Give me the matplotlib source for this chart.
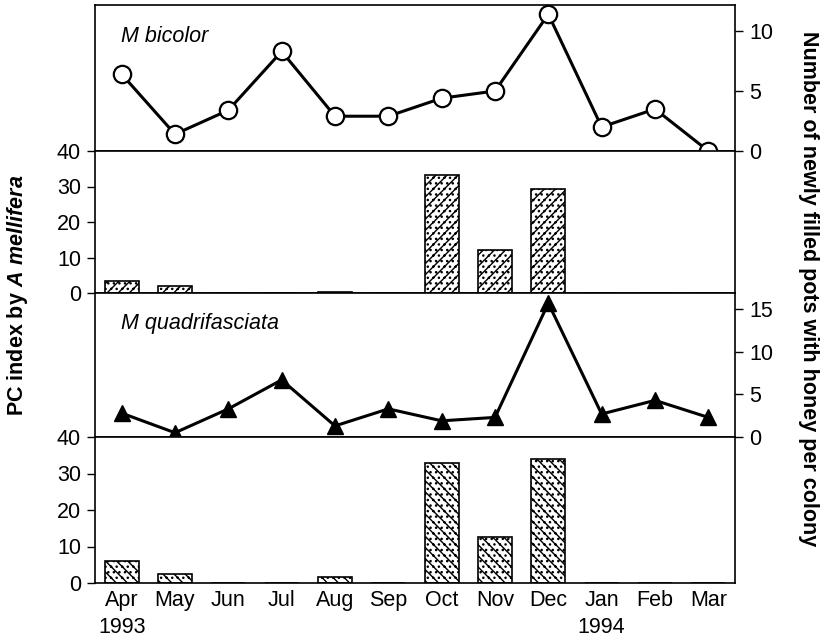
import matplotlib
matplotlib.use('Agg')
import matplotlib.pyplot as plt
import numpy as np

plt.rcParams['font.family'] = ['Liberation Sans', 'DejaVu Sans']
plt.rcParams['mathtext.fontset'] = 'custom'
plt.rcParams['mathtext.bfit'] = 'Liberation Sans:bold:italic'
plt.rcParams['mathtext.bf'] = 'Liberation Sans:bold'
plt.rcParams['hatch.linewidth'] = 1.0

months = ['Apr', 'May', 'Jun', 'Jul', 'Aug', 'Sep', 'Oct', 'Nov', 'Dec', 'Jan', 'Feb', 'Mar']
years = ['1993', '', '', '', '', '', '', '', '', '1994', '', '']

# M bicolor: newly filled pots per colony
bicolor_pots = [6.4, 1.4, 3.4, 8.3, 2.9, 2.9, 4.4, 5.0, 11.4, 2.0, 3.5, 0.0]
# PC index by A mellifera (M bicolor period)
bicolor_pc = [3.3, 1.9, 0, 0, 0.3, 0, 33.3, 12.2, 29.3, 0, 0, 0]
# M quadrifasciata: newly filled pots per colony
quadri_pots = [2.8, 0.5, 3.3, 6.7, 1.3, 3.3, 1.9, 2.3, 15.7, 2.7, 4.3, 2.3]
# PC index by A mellifera (M quadrifasciata period)
quadri_pc = [6.1, 2.4, 0, 0, 1.7, 0, 33.0, 12.6, 34.0, 0, 0, 0]

x = np.arange(len(months))
W, H = 825, 644
fig = plt.figure(figsize=(W / 100, H / 100), dpi=100)

left = 95 / W
width = (735 - 95) / W


def panel(top_px, bot_px):
    return fig.add_axes([left, 1 - bot_px / H, width, (bot_px - top_px) / H])


ax1 = panel(5, 151)
ax2 = panel(151, 293)
ax3 = panel(293, 437)
ax4 = panel(437, 583)

fs = 15.5

for ax in (ax1, ax2, ax3, ax4):
    ax.set_xlim(-0.5, 11.5)
    for s in ax.spines.values():
        s.set_linewidth(1.2)
    ax.tick_params(axis='x', length=0, labelbottom=False)

# line panels
ax1.plot(x, bicolor_pots, color='black', lw=2.2, marker='o', ms=12.5,
         mfc='white', mec='black', mew=1.6, clip_on=False, zorder=3)
ax1.set_ylim(0, 12.17)
ax1.set_yticks([0, 5, 10])
ax1.text(0.04, 0.75, 'M bicolor', transform=ax1.transAxes, fontsize=fs, style='italic')

ax3.plot(x, quadri_pots, color='black', lw=2.2, marker='^', ms=12,
         mfc='black', mec='black', clip_on=False, zorder=3)
ax3.set_ylim(0, 16.9)
ax3.set_yticks([0, 5, 10, 15])
ax3.text(0.04, 0.75, 'M quadrifasciata', transform=ax3.transAxes, fontsize=fs, style='italic')

for ax in (ax1, ax3):
    ax.yaxis.tick_right()
    ax.tick_params(axis='y', direction='out', length=6, width=1, labelsize=fs, pad=4)

# bar panels
ax2.bar(x, bicolor_pc, width=0.64, color='white', edgecolor='black', lw=1.2, hatch='///...')
ax4.bar(x, quadri_pc, width=0.64, color='white', edgecolor='black', lw=1.2, hatch='\\\\\\...')
for ax in (ax2, ax4):
    ax.set_ylim(0, 40)
    ax.set_yticks([0, 10, 20, 30, 40])
    ax.tick_params(axis='y', direction='out', length=6, width=1, labelsize=fs, pad=4)

ax4.set_xticks(x)
ax4.set_xticklabels([m + ('\n' + y if y else '') for m, y in zip(months, years)],
                    fontsize=fs)
ax4.tick_params(axis='x', labelbottom=True, pad=5)
for lab in ax4.get_xticklabels():
    lab.set_linespacing(1.35)

fig.text(18 / W, 1 - 295 / H, r'PC index by $\mathbfit{A\ mellifera}$', rotation=90,
         fontsize=fs, fontweight='bold', ha='center', va='center')
fig.text(809 / W, 1 - 289 / H, 'Number of newly filled pots with honey per colony',
         rotation=-90, fontsize=fs, fontweight='bold', ha='center', va='center')

fig.savefig('out.png', dpi=100)
